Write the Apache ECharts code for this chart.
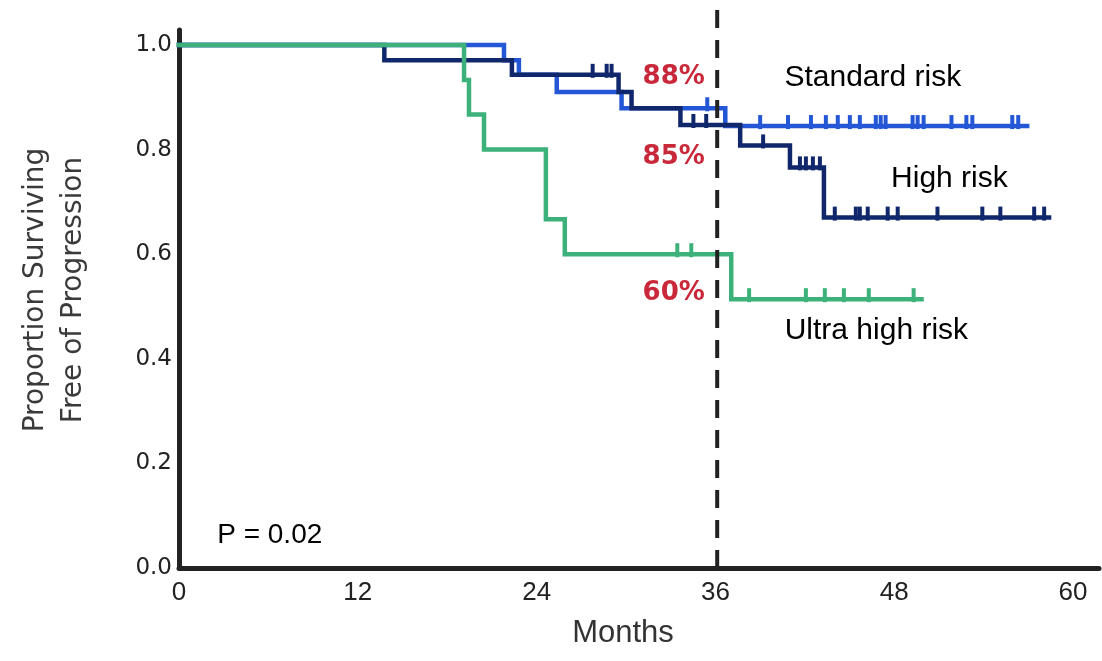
<!DOCTYPE html>
<html><head><meta charset="utf-8">
<script src="https://cdn.jsdelivr.net/npm/echarts@6/dist/echarts.min.js"></script>
<style>html,body{margin:0;padding:0;background:#fff}#c{width:1102px;height:661px}</style>
</head><body><div id="c"></div>
<script>
// ---- data (months, survival proportion) ----
const xTicks = [0, 12, 24, 36, 48, 60];
const yTicks = [0.0, 0.2, 0.4, 0.6, 0.8, 1.0];
const landmarkMonth = [36];

// Standard risk
const stdTimes  = [0, 21.81, 22.81, 25.35, 29.70, 36.66, 56.92];
const stdSurv   = [1, 0.971, 0.943, 0.910, 0.879, 0.845, 0.845];
const stdCensor = [35.45, 39.0, 40.87, 42.41, 43.41, 44.21, 45.02, 45.69, 46.76, 47.09, 47.42,
                   49.23, 49.57, 49.97, 51.84, 52.84, 53.24, 55.92, 56.32];
// High risk
const highTimes  = [0, 13.78, 22.34, 29.50, 30.37, 33.65, 37.66, 41.00, 43.28, 58.39];
const highSurv   = [1, 0.971, 0.943, 0.910, 0.879, 0.847, 0.808, 0.766, 0.670, 0.670];
const highCensor = [27.76, 28.70, 29.03, 34.52, 35.38, 39.20, 41.67, 42.07, 42.54, 43.01,
                    44.01, 45.42, 45.69, 46.22, 47.56, 48.23, 50.90, 53.91, 55.12, 57.39, 58.06];
// Ultra high risk
const ultraTimes  = [0, 19.13, 19.46, 20.47, 24.62, 25.89, 37.06, 49.83];
const ultraSurv   = [1, 0.933, 0.867, 0.800, 0.667, 0.600, 0.514, 0.514];
const ultraCensor = [33.44, 34.38, 38.26, 42.07, 43.34, 44.62, 46.29, 49.30];

// annotations
const pctLabels = ['88%', '85%', '60%'];
const pctX = [33.2, 33.2, 33.2];
const pctY = [0.939, 0.786, 0.526];
const groupLabels = ['Standard risk', 'High risk', 'Ultra high risk'];
const groupX = [46.56, 51.7, 46.8];
const groupY = [0.937, 0.744, 0.453];
const pText = ['P = 0.02'];
const pX = [6.09];
const pY = [0.063];

// ---- helpers ----
function survAt(times, surv, t) {
  let v = surv[0];
  for (let i = 0; i < times.length; i++) { if (times[i] <= t) v = surv[i]; }
  return v;
}
const zip = (a, b) => a.map((v, i) => [v, b[i]]);

const C_STD = '#2457d6', C_HIGH = '#10286b', C_ULTRA = '#3cb27a', C_RED = '#c8283a';
const X_MAX = 61.74, Y_MAX = 1.0287, Y_MAX2 = 1.0669;

function kmLine(name, times, surv, color) {
  return { name, type: 'line', step: 'end', data: zip(times, surv), showSymbol: false,
    lineStyle: { color, width: 4.5, cap: 'square', join: 'miter' }, itemStyle: { color },
    silent: true, z: 3 };
}
function censorSeries(name, times, surv, cens, color) {
  return { name: name + ' censored', type: 'scatter', symbol: 'rect', symbolSize: [4, 14],
    symbolOffset: [0, -4], data: cens.map(t => [t, survAt(times, surv, t)]),
    itemStyle: { color, opacity: 1 }, silent: true, z: 4 };
}
function textSeries(texts, xs, ys, style) {
  return { type: 'scatter', symbolSize: 0, silent: true, z: 6, itemStyle: { opacity: 1 },
    data: texts.map((t, i) => ({ value: [xs[i], ys[i]], name: t })),
    label: Object.assign({ show: true, position: 'inside', formatter: p => p.name,
      align: 'center', verticalAlign: 'middle', opacity: 1 }, style) };
}

const chart = echarts.init(document.getElementById('c'), null, { renderer: 'canvas' });
chart.setOption({
  animation: false,
  backgroundColor: '#fff',
  grid: [
    { left: 179, right: 0, top: 30, bottom: 93, containLabel: false },
    { left: 179, right: 0, top: 10, bottom: 93, containLabel: false }
  ],
  xAxis: [
    { type: 'value', gridIndex: 0, min: 0, max: X_MAX, interval: 12,
      axisLine: { show: true, onZero: false, lineStyle: { color: '#222', width: 5 } },
      axisTick: { show: false }, splitLine: { show: false },
      axisLabel: { margin: 12, color: '#222', fontSize: 26,
        fontFamily: "'Liberation Sans Narrow', 'Liberation Sans', Arial, sans-serif",
        formatter: v => (xTicks.indexOf(v) >= 0 ? String(v) : '') },
      name: 'Months', nameLocation: 'middle', nameGap: 50,
      nameTextStyle: { fontSize: 31, color: '#333', fontFamily: "'Liberation Sans', Arial, sans-serif",
        padding: [0, 32, 0, 0] } },
    { type: 'value', gridIndex: 1, min: 0, max: X_MAX, show: false }
  ],
  yAxis: [
    { type: 'value', gridIndex: 0, min: 0, max: Y_MAX, interval: 0.2,
      axisLine: { show: true, onZero: false, lineStyle: { color: '#222', width: 5 } },
      axisTick: { show: false }, splitLine: { show: false },
      axisLabel: { margin: 7, color: '#222', fontSize: 23,
        fontFamily: "'DejaVu Sans', sans-serif",
        formatter: v => { const m = yTicks.find(t => Math.abs(t - v) < 1e-6); return m === undefined ? '' : m.toFixed(1); } },
      name: 'Proportion Surviving\nFree of Progression', nameLocation: 'middle', nameRotate: 90, nameGap: 86,
      nameTextStyle: { fontSize: 28, lineHeight: 38, color: '#3a3a3a', fontFamily: "'DejaVu Sans', sans-serif",
        padding: [0, 0, 0, 18] } },
    { type: 'value', gridIndex: 1, min: 0, max: Y_MAX2, show: false }
  ],
  series: [
    kmLine('Standard risk', stdTimes, stdSurv, C_STD),
    kmLine('High risk', highTimes, highSurv, C_HIGH),
    kmLine('Ultra high risk', ultraTimes, ultraSurv, C_ULTRA),
    censorSeries('Standard risk', stdTimes, stdSurv, stdCensor, C_STD),
    censorSeries('High risk', highTimes, highSurv, highCensor, C_HIGH),
    censorSeries('Ultra high risk', ultraTimes, ultraSurv, ultraCensor, C_ULTRA),
    { name: 'landmark', type: 'line', xAxisIndex: 1, yAxisIndex: 1, showSymbol: false, silent: true, z: 5,
      data: [[landmarkMonth[0], Y_MAX2], [landmarkMonth[0], 0]],
      lineStyle: { color: '#222', width: 4, type: [18, 12] } },
    textSeries(pctLabels, pctX, pctY, { fontSize: 26, fontWeight: 'bold', color: C_RED,
      fontFamily: "'DejaVu Sans', sans-serif" }),
    textSeries(groupLabels, groupX, groupY, { fontSize: 30, color: '#000',
      fontFamily: "'Liberation Sans', Arial, sans-serif" }),
    textSeries(pText, pX, pY, { fontSize: 28, color: '#000',
      fontFamily: "'Liberation Sans', Arial, sans-serif" })
  ]
});
</script></body></html>
